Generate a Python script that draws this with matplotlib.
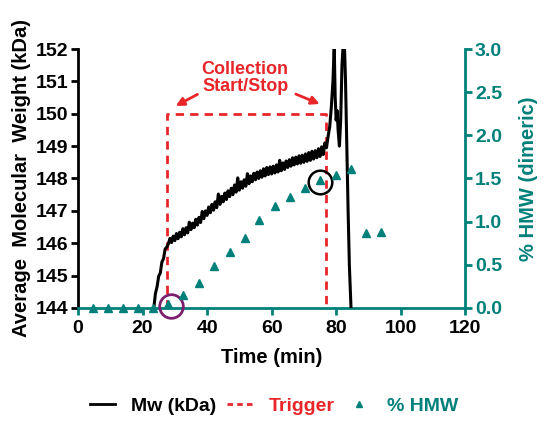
import matplotlib.pyplot as plt
from matplotlib.lines import Line2D

plt.rcParams['font.family'] = ['Liberation Sans', 'DejaVu Sans']
plt.rcParams['font.weight'] = 'bold'

teal = '#00807a'
red = '#e8262a'
purple = '#7b1f6e'

# Mw trace (kDa) vs time (min)
mw_time = [23.5, 24.0, 24.5, 25.0, 25.5, 26.0, 26.5, 27.0, 27.5,
           28.0, 28.5, 29.0, 29.5, 30.0, 30.5, 31.0, 31.5, 32.0, 32.5,
           33.0, 33.5, 34.0, 34.5, 35.0, 35.5, 36.0, 36.5, 37.0, 37.5,
           38.0, 38.5, 39.0, 39.5, 40.0, 40.5, 41.0, 41.5, 42.0, 42.5,
           43.0, 43.5, 44.0, 44.5, 45.0, 45.5, 46.0, 46.5, 47.0, 47.5,
           48.0, 48.5, 49.0, 49.5, 50.0, 50.5, 51.0, 51.5, 52.0, 52.5,
           53.0, 53.5, 54.0, 54.5, 55.0, 55.5, 56.0, 56.5, 57.0, 57.5,
           58.0, 58.5, 59.0, 59.5, 60.0, 60.5, 61.0, 61.5, 62.0, 62.5,
           63.0, 63.5, 64.0, 64.5, 65.0, 65.5, 66.0, 66.5, 67.0, 67.5,
           68.0, 68.5, 69.0, 69.5, 70.0, 70.5, 71.0, 71.5, 72.0, 72.5,
           73.0, 73.5, 74.0, 74.5, 75.0, 75.5, 76.0, 76.5, 77.0,
           77.5, 78.0, 78.5, 79.0, 79.4, 79.7, 80.0, 80.3, 80.6, 81.0,
           81.4, 81.8, 82.2, 82.6, 82.9, 83.3, 83.7, 84.1, 84.6]
mw_kda = [144.00, 144.45, 144.65, 144.98, 145.08, 145.42, 145.52, 145.82, 145.88,
          145.98, 146.15, 146.02, 146.22, 146.08, 146.30, 146.14, 146.34, 146.20, 146.45,
          146.26, 146.48, 146.32, 146.65, 146.42, 146.62, 146.48, 146.74, 146.56, 146.80,
          146.64, 146.98, 146.76, 147.00, 146.86, 147.12, 146.94, 147.20, 147.02, 147.28,
          147.10, 147.52, 147.20, 147.45, 147.28, 147.55, 147.35, 147.62, 147.44, 147.70,
          147.50, 147.80, 147.58, 148.02, 147.64, 147.90, 147.70, 147.96, 147.76, 148.15,
          147.84, 148.08, 147.90, 148.16, 147.96, 148.20, 148.00, 148.24, 148.04, 148.30,
          148.08, 148.34, 148.12, 148.36, 148.14, 148.38, 148.17, 148.42, 148.20, 148.56,
          148.24, 148.48, 148.28, 148.54, 148.34, 148.58, 148.38, 148.64, 148.42, 148.66,
          148.45, 148.70, 148.47, 148.72, 148.50, 148.76, 148.53, 148.80, 148.56, 148.84,
          148.60, 148.86, 148.64, 148.92, 148.68, 148.98, 148.74, 149.10, 148.95,
          149.30, 149.60, 150.20, 151.00, 152.10, 150.50, 149.80, 150.10, 149.50, 149.00,
          149.80, 151.50, 152.20, 152.00, 151.00, 149.00, 147.00, 145.30, 144.00]

# trigger window
trig_time = [27.6, 27.6, 76.9, 76.9]
trig_mw = [144, 150, 150, 144]

# % HMW (dimeric) fractions
hmw_time = [4.6, 9.3, 14.0, 18.6, 23.3, 28.0, 32.6, 37.6, 42.3, 47.0,
            51.6, 56.2, 60.9, 65.7, 70.4, 75.0, 80.0, 84.7, 89.3, 94.0]
hmw_pct = [0, 0, 0, 0, 0, 0.05, 0.15, 0.29, 0.49, 0.65,
           0.81, 1.02, 1.18, 1.29, 1.39, 1.48, 1.54, 1.61, 0.87, 0.88]

fig = plt.figure(figsize=(5.59, 4.28), dpi=100)
ax = fig.add_axes([0.1395, 0.2804, 0.6928, 0.6051])
ax2 = ax.twinx()

ax.plot(mw_time, mw_kda, color='black', lw=2.2, zorder=3)
ax.plot(trig_time, trig_mw, color=red, lw=2, ls=(0, (3, 2.2)), zorder=2)
ax2.plot(hmw_time, hmw_pct, ls='none', marker='^', ms=6, color=teal, clip_on=False, zorder=4)

ax.set_xlim(0, 120)
ax.set_ylim(144, 152)
ax2.set_ylim(0, 3.0)
ax.set_xticks(range(0, 121, 20))
ax.set_yticks(range(144, 153))
ax2.set_yticks([0, 0.5, 1.0, 1.5, 2.0, 2.5, 3.0])
ax2.set_yticklabels(['0.0', '0.5', '1.0', '1.5', '2.0', '2.5', '3.0'])

for a in (ax, ax2):
    a.spines['top'].set_visible(False)
ax.spines['right'].set_visible(False)
ax2.spines['left'].set_visible(False)
ax2.spines['bottom'].set_visible(False)
ax.spines['left'].set_linewidth(2)
ax.spines['bottom'].set_linewidth(2)
ax.spines['bottom'].set_color(teal)
ax2.spines['right'].set_linewidth(2)
ax2.spines['right'].set_color(teal)

ax.tick_params(axis='y', labelsize=14, width=2, length=5, colors='black', pad=2)
ax.tick_params(axis='x', labelsize=14, width=2, length=5, color=teal, labelcolor='black')
ax2.tick_params(axis='y', labelsize=14, width=2, length=5, colors=teal, pad=2)

ax.set_xlabel('Time (min)', fontsize=14.5, fontweight='bold', labelpad=8)
ax.set_ylabel('Average  Molecular  Weight (kDa)', fontsize=14.5, fontweight='bold', labelpad=3)
ax2.set_ylabel('% HMW (dimeric)', fontsize=14.5, fontweight='bold', color=teal, labelpad=12)

# annotations
ax.text(51.8, 151.1, 'Collection\nStart/Stop', color=red, fontsize=13, fontweight='bold',
        ha='center', va='center', linespacing=1.0)
ax.annotate('', xy=(29.5, 150.2), xytext=(37.8, 150.64),
            arrowprops=dict(arrowstyle='-|>', color=red, lw=2, mutation_scale=12))
ax.annotate('', xy=(75.7, 150.27), xytext=(66.7, 150.64),
            arrowprops=dict(arrowstyle='-|>', color=red, lw=2, mutation_scale=12))
ax.plot([28.8], [144.06], marker='o', ms=17, mfc='none', mec=purple, mew=2, clip_on=False, zorder=5)
ax.plot([75.0], [147.89], marker='o', ms=17, mfc='none', mec='black', mew=1.8, zorder=5)

handles = [Line2D([], [], color='black', lw=2),
           Line2D([], [], color=red, lw=2, ls=(0, (2, 1.5))),
           Line2D([], [], ls='none', marker='^', ms=5, color=teal)]
leg = fig.legend(handles, ['Mw (kDa)', 'Trigger', '% HMW'], loc='center', ncol=3,
                 bbox_to_anchor=(0.49, 0.052), frameon=False, fontsize=14,
                 handlelength=1.3, columnspacing=0.6, handletextpad=0.8)
for t, c in zip(leg.get_texts(), ['black', red, teal]):
    t.set_color(c)
    t.set_fontweight('bold')

fig.savefig('out.png', dpi=100)
